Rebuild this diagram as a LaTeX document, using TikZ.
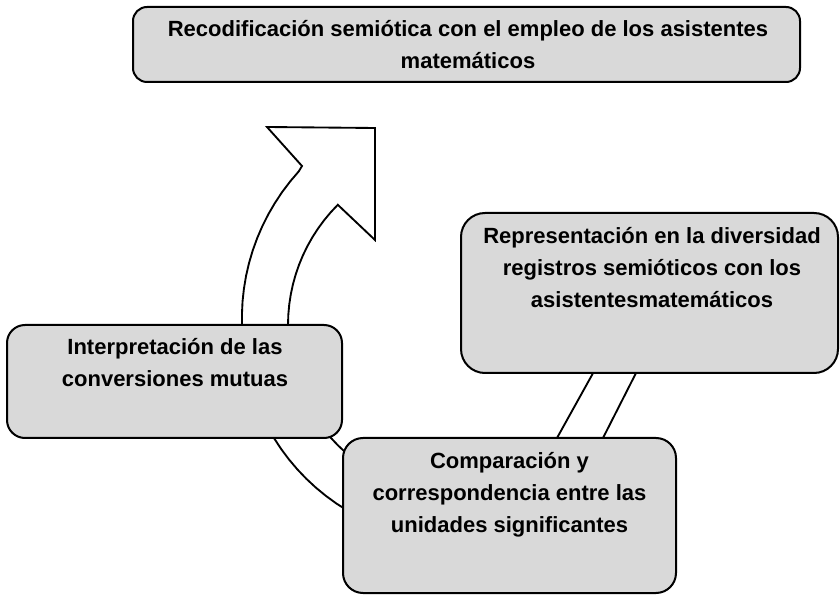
\documentclass[tikz,border=0pt]{standalone}
\usepackage{fontspec}
\setmainfont{Liberation Sans}
\definecolor{boxgray}{RGB}{217,217,217}
\begin{document}
\begin{tikzpicture}[x=0.75pt,y=-0.75pt,
  box/.style={draw=black, line width=1.5pt, fill=boxgray, rectangle, inner sep=0pt},
  lbl/.style={align=center, font=\fontsize{16.5}{24}\selectfont\bfseries, inner sep=0pt},
  arrowshape/.style={draw=black, line width=1.4pt, fill=white, line join=miter}]
\useasboundingbox (0,0) rectangle (840,595);
\fill[white] (0,0) rectangle (840,595);

% curved block arrow (drawn behind the boxes)
\draw[arrowshape] (658,330) -- (635,375) -- (603,438)
  .. controls (580,483) and (515,541) .. (458,541)
  -- plot[variable=\t, domain=90:224, samples=40] ({458+(216+(\t>180)*(\t-180)*0.12)*cos(\t)},{325+(216+(\t>180)*(\t-180)*0.12)*sin(\t)})
  -- (302,166) -- (267,127) -- (375,128) -- (375,240) -- (337.8,204.8)
  -- plot[variable=\t, domain=225:90, samples=40] ({458+170*cos(\t)},{325+170*sin(\t)})
  .. controls (510,495) and (540,469) .. (557,438) -- (592,375) -- (617,330) -- cycle;

% boxes
\node[box, rounded corners=10.5pt, minimum width=500.25pt, minimum height=56.25pt] (top) at (466.5,44.5) {};
\node[box, rounded corners=13.5pt, minimum width=251.25pt, minimum height=84.75pt] (left) at (174.5,381.5) {};
\node[box, rounded corners=18pt, minimum width=282.75pt, minimum height=120pt] (right) at (649.5,293) {};
\node[box, rounded corners=15pt, minimum width=249.75pt, minimum height=116.25pt] (bottom) at (509.5,515.5) {};

% texts
\node[lbl] (ttop) at (468,45) {Recodificación semiótica con el empleo de los asistentes\\matemáticos};
\node[lbl] (tright) at (652,268) {Representación en la diversidad\\registros semióticos con los\\asistentesmatemáticos};
\node[lbl] (tleft) at (175,362.5) {Interpretación de las\\conversiones mutuas};
\node[lbl] (tbottom) at (509.5,495) {Comparación y\\correspondencia entre las\\unidades significantes};
\end{tikzpicture}
\end{document}
